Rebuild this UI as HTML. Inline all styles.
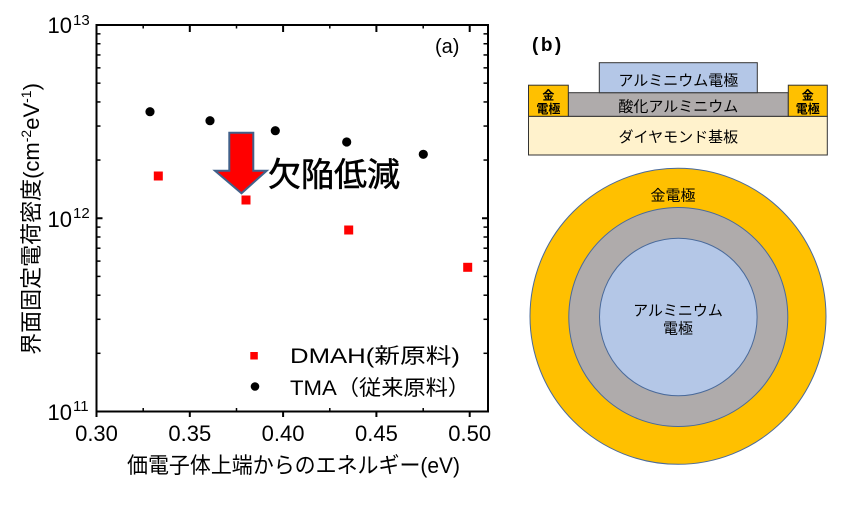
<!DOCTYPE html>
<html>
<head>
<meta charset="utf-8">
<style>
html,body{margin:0;padding:0;background:#fff;}
svg{display:block;}
text{font-family:"Liberation Sans","Noto Sans CJK JP",sans-serif;}
</style>
</head>
<body>
<svg width="850" height="511" viewBox="0 0 850 511" xmlns="http://www.w3.org/2000/svg">
<rect width="850" height="511" fill="#fff"/>

<!-- ===== Panel (a) ===== -->
<g stroke="#000" stroke-width="2" fill="none">
  <rect x="96.5" y="25" width="391.5" height="386.5"/>
</g>
<g stroke="#000" stroke-width="2">
  <line x1="96.5" y1="411.5" x2="96.5" y2="417"/>
  <line x1="189.8" y1="411.5" x2="189.8" y2="417"/>
  <line x1="283.1" y1="411.5" x2="283.1" y2="417"/>
  <line x1="376.4" y1="411.5" x2="376.4" y2="417"/>
  <line x1="469.7" y1="411.5" x2="469.7" y2="417"/>
  <line x1="189.8" y1="25" x2="189.8" y2="32"/>
  <line x1="283.1" y1="25" x2="283.1" y2="32"/>
  <line x1="376.4" y1="25" x2="376.4" y2="32"/>
  <line x1="469.7" y1="25" x2="469.7" y2="32"/>
</g>
<g stroke="#000" stroke-width="1.5">
  <line x1="143.2" y1="411.5" x2="143.2" y2="408"/>
  <line x1="236.5" y1="411.5" x2="236.5" y2="408"/>
  <line x1="329.8" y1="411.5" x2="329.8" y2="408"/>
  <line x1="423.2" y1="411.5" x2="423.2" y2="408"/>
  <line x1="143.2" y1="25" x2="143.2" y2="28.5"/>
  <line x1="236.5" y1="25" x2="236.5" y2="28.5"/>
  <line x1="329.8" y1="25" x2="329.8" y2="28.5"/>
  <line x1="423.2" y1="25" x2="423.2" y2="28.5"/>
</g>
<g stroke="#000" stroke-width="2">
  <line x1="96.5" y1="218.25" x2="102.5" y2="218.25"/>
  <line x1="488" y1="218.25" x2="482" y2="218.25"/>
</g>
<g stroke="#000" stroke-width="1.5">
  <line x1="96.5" y1="353.3" x2="100.5" y2="353.3"/><line x1="488" y1="353.3" x2="483.5" y2="353.3"/>
  <line x1="96.5" y1="319.3" x2="100.5" y2="319.3"/><line x1="488" y1="319.3" x2="483.5" y2="319.3"/>
  <line x1="96.5" y1="295.2" x2="100.5" y2="295.2"/><line x1="488" y1="295.2" x2="483.5" y2="295.2"/>
  <line x1="96.5" y1="276.4" x2="100.5" y2="276.4"/><line x1="488" y1="276.4" x2="483.5" y2="276.4"/>
  <line x1="96.5" y1="261.1" x2="100.5" y2="261.1"/><line x1="488" y1="261.1" x2="483.5" y2="261.1"/>
  <line x1="96.5" y1="248.2" x2="100.5" y2="248.2"/><line x1="488" y1="248.2" x2="483.5" y2="248.2"/>
  <line x1="96.5" y1="237.0" x2="100.5" y2="237.0"/><line x1="488" y1="237.0" x2="483.5" y2="237.0"/>
  <line x1="96.5" y1="227.1" x2="100.5" y2="227.1"/><line x1="488" y1="227.1" x2="483.5" y2="227.1"/>
  <line x1="96.5" y1="160.05" x2="100.5" y2="160.05"/><line x1="488" y1="160.05" x2="483.5" y2="160.05"/>
  <line x1="96.5" y1="126.05" x2="100.5" y2="126.05"/><line x1="488" y1="126.05" x2="483.5" y2="126.05"/>
  <line x1="96.5" y1="101.95" x2="100.5" y2="101.95"/><line x1="488" y1="101.95" x2="483.5" y2="101.95"/>
  <line x1="96.5" y1="83.15" x2="100.5" y2="83.15"/><line x1="488" y1="83.15" x2="483.5" y2="83.15"/>
  <line x1="96.5" y1="67.85" x2="100.5" y2="67.85"/><line x1="488" y1="67.85" x2="483.5" y2="67.85"/>
  <line x1="96.5" y1="54.95" x2="100.5" y2="54.95"/><line x1="488" y1="54.95" x2="483.5" y2="54.95"/>
  <line x1="96.5" y1="43.75" x2="100.5" y2="43.75"/><line x1="488" y1="43.75" x2="483.5" y2="43.75"/>
  <line x1="96.5" y1="33.85" x2="100.5" y2="33.85"/><line x1="488" y1="33.85" x2="483.5" y2="33.85"/>
</g>

<g font-size="22" fill="#000" text-anchor="middle">
  <text x="96.5" y="441">0.30</text>
  <text x="189.8" y="441">0.35</text>
  <text x="283.1" y="441">0.40</text>
  <text x="376.4" y="441">0.45</text>
  <text x="469.7" y="441">0.50</text>
</g>
<g fill="#000">
  <text x="72" y="33" font-size="22" text-anchor="end">10</text>
  <text x="73" y="25" font-size="15">13</text>
  <text x="72" y="227" font-size="22" text-anchor="end">10</text>
  <text x="73" y="218" font-size="15">12</text>
  <text x="72" y="420" font-size="22" text-anchor="end">10</text>
  <text x="73" y="411" font-size="15">11</text>
</g>

<text x="127" y="473" font-size="22" fill="#000" textLength="333" lengthAdjust="spacingAndGlyphs">価電子体上端からのエネルギー(eV)</text>

<text transform="translate(39,219) rotate(-90)" text-anchor="middle" font-size="22" fill="#000">界面固定電荷密度(cm<tspan font-size="14" dy="-8">-2</tspan><tspan dy="8">eV</tspan><tspan font-size="14" dy="-8">-1</tspan><tspan dy="8">)</tspan></text>

<text x="435" y="53" font-size="20" fill="#000">(a)</text>

<g fill="#000">
  <circle cx="150" cy="111.7" r="4.6"/>
  <circle cx="210" cy="120.7" r="4.6"/>
  <circle cx="275.3" cy="130.7" r="4.6"/>
  <circle cx="346.7" cy="142" r="4.6"/>
  <circle cx="423.3" cy="154.3" r="4.6"/>
</g>
<g fill="#ff0000">
  <rect x="153.8" y="171.5" width="9" height="9"/>
  <rect x="241.5" y="195.5" width="9" height="9"/>
  <rect x="344.2" y="225.5" width="9" height="9"/>
  <rect x="463.2" y="262.8" width="9" height="9"/>
</g>

<path d="M229.3,132.7 L253.3,132.7 L253.3,170.7 L266.7,170.7 L241.5,193.3 L215,170.7 L229.3,170.7 Z" fill="#ff0000" stroke="#41618a" stroke-width="2" stroke-linejoin="miter"/>
<text x="268" y="186" font-size="33" fill="#000" stroke="#000" stroke-width="0.6" textLength="132" lengthAdjust="spacingAndGlyphs">欠陥低減</text>

<rect x="250.3" y="352" width="7.5" height="7.5" fill="#ff0000"/>
<circle cx="255" cy="386.5" r="4.3" fill="#000"/>
<text x="290" y="363" font-size="21" fill="#000" textLength="170" lengthAdjust="spacingAndGlyphs">DMAH(新原料)</text>
<text x="290" y="395" font-size="21" fill="#000" textLength="180" lengthAdjust="spacingAndGlyphs">TMA（従来原料）</text>

<!-- ===== Panel (b) ===== -->
<text x="532" y="51" font-size="19" font-weight="bold" fill="#000" letter-spacing="2.5">(b)</text>

<rect x="528.5" y="116.3" width="298.8" height="38.7" fill="#fff2cc" stroke="#333" stroke-width="1"/>
<rect x="568.3" y="92.7" width="220" height="23.6" fill="#afabab" stroke="#333" stroke-width="1"/>
<rect x="599.3" y="62.7" width="158" height="30" fill="#b4c7e7" stroke="#333" stroke-width="1"/>
<rect x="528.5" y="85.2" width="39.8" height="31.1" fill="#ffc000" stroke="#333" stroke-width="1"/>
<rect x="788.3" y="85.2" width="39" height="31.1" fill="#ffc000" stroke="#333" stroke-width="1"/>

<g font-size="15" fill="#000" text-anchor="middle">
  <text x="678.3" y="85.5">アルミニウム電極</text>
  <text x="678.3" y="111.5">酸化アルミニウム</text>
  <text x="678.3" y="142">ダイヤモンド基板</text>
</g>
<g font-size="12" fill="#000" text-anchor="middle" font-weight="bold">
  <text x="548.4" y="99.5">金</text>
  <text x="548.4" y="113">電極</text>
  <text x="807.8" y="99.5">金</text>
  <text x="807.8" y="113">電極</text>
</g>

<circle cx="678" cy="316.3" r="148" fill="#ffc000" stroke="#4a6a9a" stroke-width="1"/>
<circle cx="678.3" cy="317" r="109.5" fill="#afabab" stroke="#4a6a9a" stroke-width="1"/>
<circle cx="678.3" cy="317" r="78.8" fill="#b4c7e7" stroke="#4a6a9a" stroke-width="1"/>
<g font-size="15" fill="#000" text-anchor="middle">
  <text x="673" y="200.5">金電極</text>
  <text x="678" y="315.5">アルミニウム</text>
  <text x="678" y="333.5">電極</text>
</g>
</svg>
</body>
</html>
